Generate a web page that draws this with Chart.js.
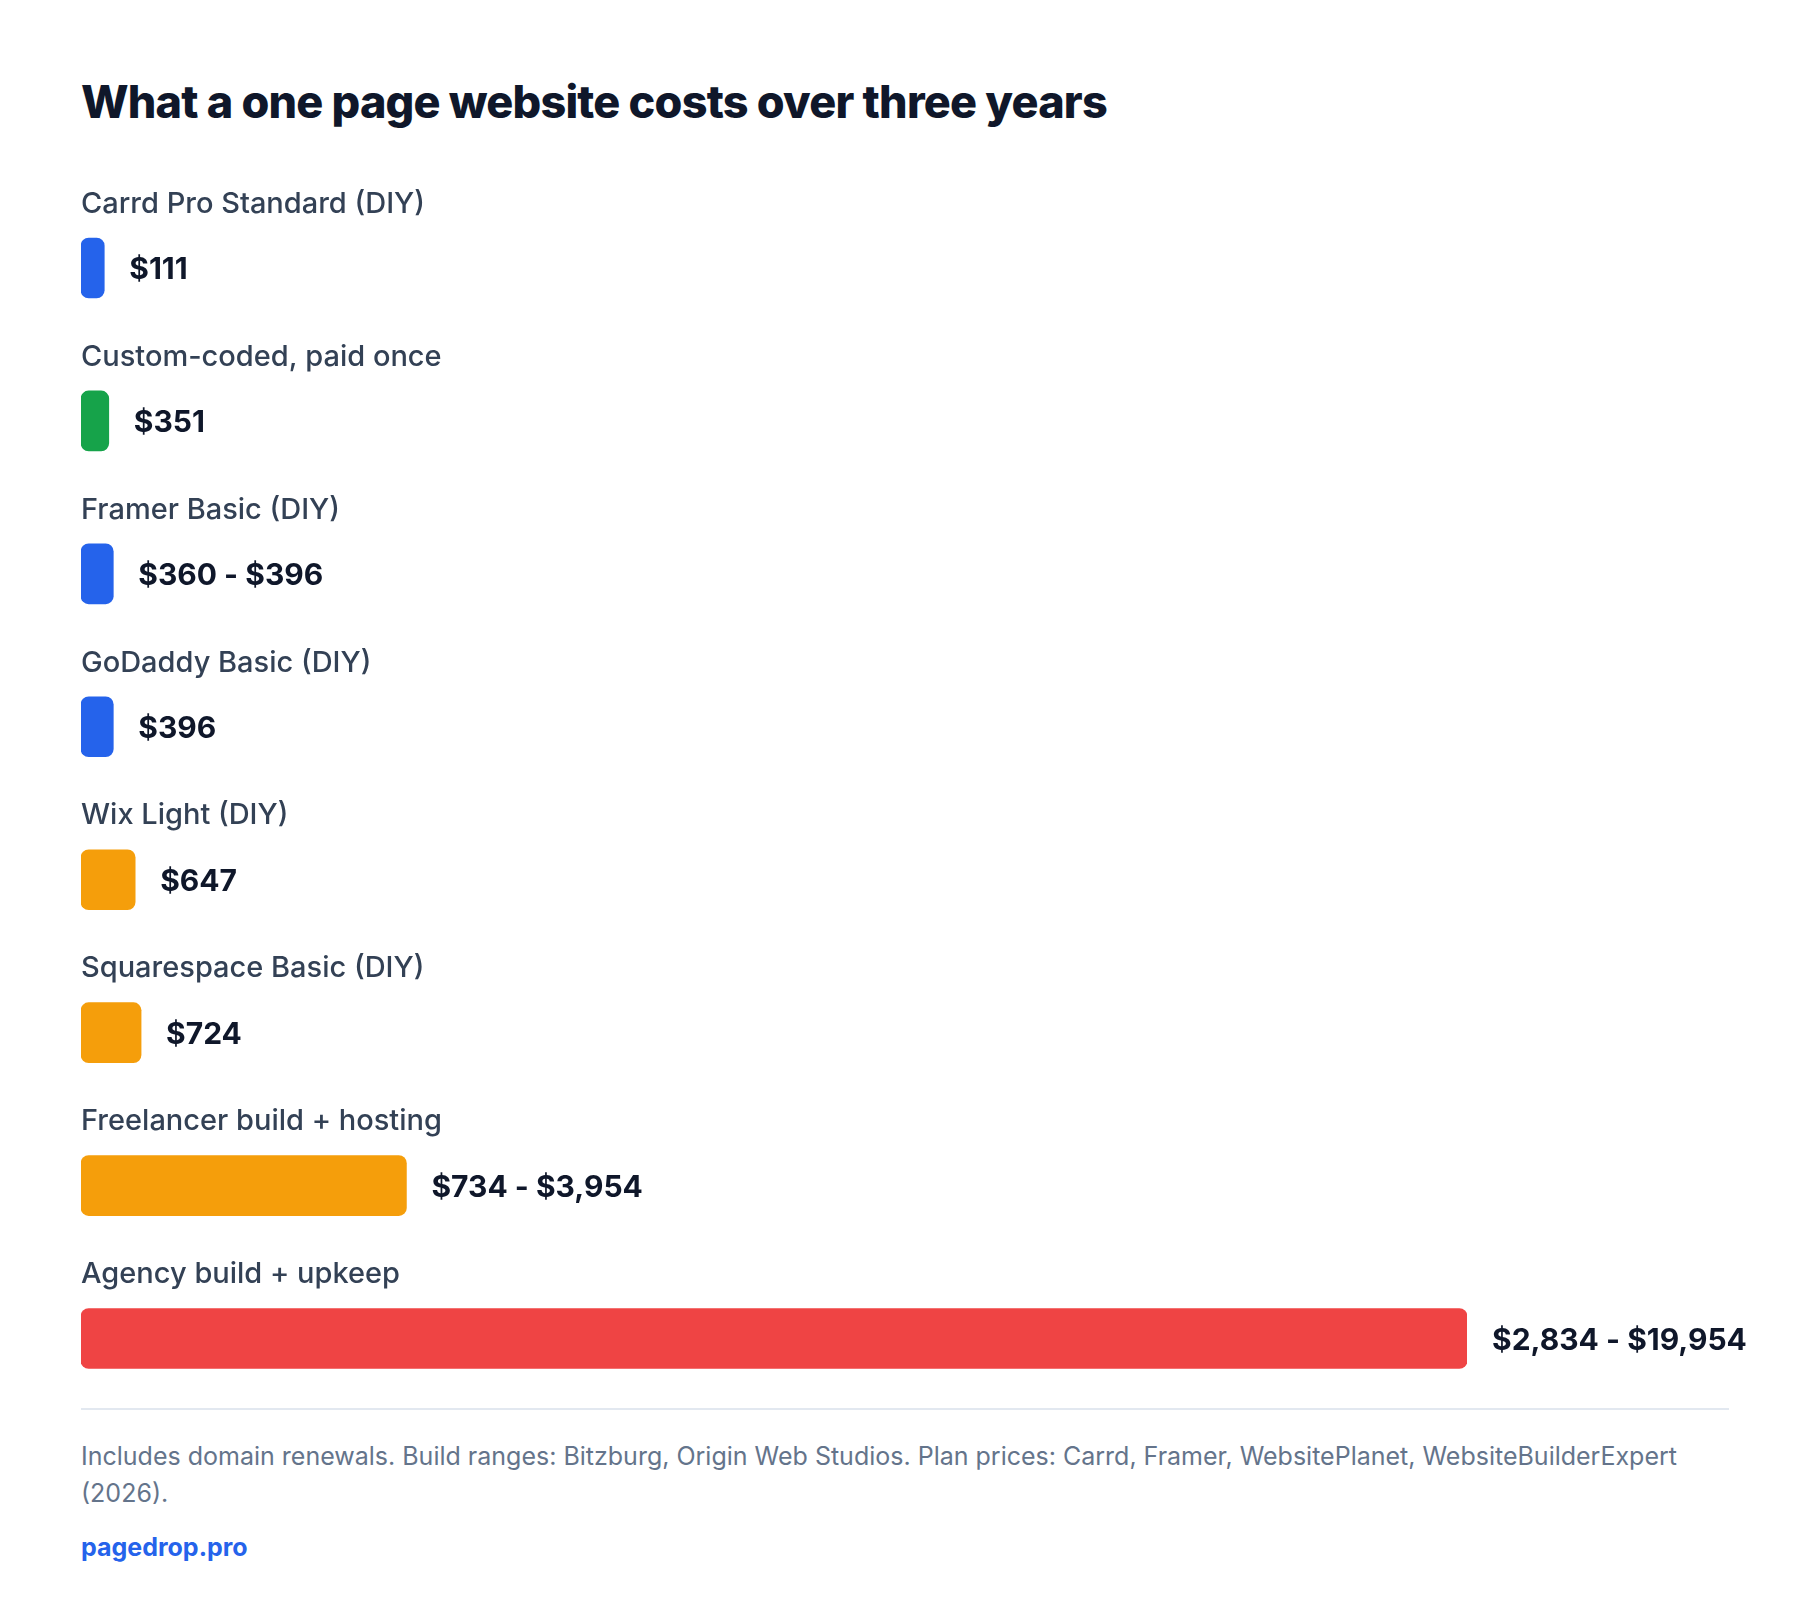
<!DOCTYPE html>
<html><head><meta charset="utf-8">
<script src="https://cdn.jsdelivr.net/npm/chart.js@4"></script>
<style>
body{margin:0;background:#fff;font-family:Inter,"Noto Sans",sans-serif;width:1800px;height:1616px;position:relative;overflow:hidden}
#title{position:absolute;left:81px;top:74px;font-size:45px;font-weight:800;color:#0f172a;letter-spacing:-0.8px;font-family:Inter,sans-serif}
#c{position:absolute;left:0;top:150px}
#rule{position:absolute;left:81px;width:1648px;top:1408px;height:2px;background:#e2e8f0}
#note{position:absolute;left:81px;top:1438px;width:1660px;font-size:25px;line-height:37px;color:#64748b}
#brand{position:absolute;left:81px;top:1532px;font-size:25px;font-weight:700;color:#2563eb}
</style></head><body>
<div id="title">What a one page website costs over three years</div>
<canvas id="c" width="1800" height="1265"></canvas>
<div id="rule"></div>
<div id="note">Includes domain renewals. Build ranges: Bitzburg, Origin Web Studios. Plan prices: Carrd, Framer, WebsitePlanet, WebsiteBuilderExpert (2026).</div>
<div id="brand">pagedrop.pro</div>
<script>
const categories = ["Carrd Pro Standard (DIY)","Custom-coded, paid once","Framer Basic (DIY)","GoDaddy Basic (DIY)","Wix Light (DIY)","Squarespace Basic (DIY)","Freelancer build + hosting","Agency build + upkeep"];
const valueLabels = ["$111","$351","$360 - $396","$396","$647","$724","$734 - $3,954","$2,834 - $19,954"];
const barLengths = [335, 400, 465, 465, 780, 865, 4685, 19954];
const barColors = ["#2563eb","#16a34a","#2563eb","#2563eb","#f59e0b","#f59e0b","#f59e0b","#ef4444"];
const axisMax = 19954;

const labelPlugin = {
  id:'rowLabels',
  afterDatasetsDraw(chart){
    const ctx = chart.ctx;
    const meta = chart.getDatasetMeta(0);
    meta.data.forEach((bar,i)=>{
      ctx.save();
      ctx.textBaseline='middle';
      ctx.textAlign='left';
      ctx.fillStyle='#334155';
      ctx.font='500 29px Inter, sans-serif';
      ctx.fillText(categories[i], chart.chartArea.left, bar.y-64);
      ctx.fillStyle='#0f172a';
      ctx.font='700 30px Inter, sans-serif';
      ctx.fillText(valueLabels[i], bar.x+25, bar.y+2);
      ctx.restore();
    });
  }
};

new Chart(document.getElementById('c'),{
  type:'bar',
  data:{labels:categories,datasets:[{data:barLengths,backgroundColor:barColors,borderRadius:8,borderSkipped:false,barThickness:60}]},
  options:{
    indexAxis:'y',responsive:false,animation:false,devicePixelRatio:1,
    layout:{padding:{left:81,right:333,top:41.5,bottom:0}},
    scales:{x:{display:false,min:0,max:axisMax},y:{display:false}},
    plugins:{legend:{display:false},tooltip:{enabled:false}}
  },
  plugins:[labelPlugin]
});
</script>
</body></html>
